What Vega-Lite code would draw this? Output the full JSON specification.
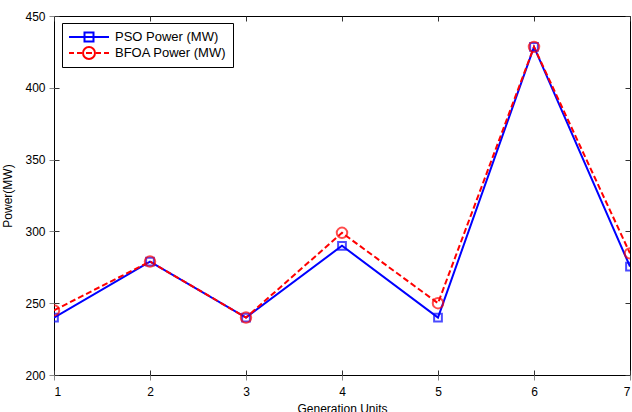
{
  "$schema": "https://vega.github.io/schema/vega-lite/v6.json",
  "width": 576,
  "height": 359,
  "autosize": {"type": "none"},
  "padding": {"left": 54, "top": 16, "right": 2, "bottom": 37},
  "background": "white",
  "config": {
    "font": "Liberation Sans",
    "view": {"stroke": "black", "strokeWidth": 1},
    "axis": {
      "domain": false,
      "labelFont": "Liberation Sans",
      "labelFontSize": 12,
      "labelColor": "black",
      "titleFont": "Liberation Sans",
      "titleFontSize": 12,
      "titleFontWeight": "normal",
      "titleColor": "black",
      "gridColor": "#333333",
      "gridOpacity": 1,
      "gridWidth": 1
    }
  },
  "data": {
    "values": [
      {"unit": 1, "power": 240, "series": "PSO Power (MW)"},
      {"unit": 2, "power": 279, "series": "PSO Power (MW)"},
      {"unit": 3, "power": 240, "series": "PSO Power (MW)"},
      {"unit": 4, "power": 290, "series": "PSO Power (MW)"},
      {"unit": 5, "power": 240, "series": "PSO Power (MW)"},
      {"unit": 6, "power": 428.5, "series": "PSO Power (MW)"},
      {"unit": 7, "power": 275.5, "series": "PSO Power (MW)"},
      {"unit": 1, "power": 245, "series": "BFOA Power (MW)"},
      {"unit": 2, "power": 279, "series": "BFOA Power (MW)"},
      {"unit": 3, "power": 240, "series": "BFOA Power (MW)"},
      {"unit": 4, "power": 299, "series": "BFOA Power (MW)"},
      {"unit": 5, "power": 250, "series": "BFOA Power (MW)"},
      {"unit": 6, "power": 428.5, "series": "BFOA Power (MW)"},
      {"unit": 7, "power": 284.7, "series": "BFOA Power (MW)"}
    ]
  },
  "layer": [
    {
      "transform": [{"filter": "datum.series === 'PSO Power (MW)'"}],
      "mark": {"type": "line", "strokeWidth": 2, "clip": true},
      "encoding": {
        "x": {"field": "unit", "type": "quantitative", "scale": {"domain": [1, 7], "nice": false, "zero": false},
              "axis": {"title": "Generation Units", "values": [1,2,3,4,5,6,7], "grid": true, "gridDash": [5, 349, 5, 100], "labelPadding": 6, "titlePadding": 6, "format": "d"}},
        "y": {"field": "power", "type": "quantitative", "scale": {"domain": [200, 450], "nice": false, "zero": false},
              "axis": {"title": "Power(MW)", "values": [200,250,300,350,400,450], "grid": true, "gridDash": [5, 566, 5, 100], "labelPadding": 4, "titlePadding": 10}},
        "color": {"field": "series", "type": "nominal", "scale": {"domain": ["PSO Power (MW)", "BFOA Power (MW)"], "range": ["#0000ff", "#ff0000"]},
                  "legend": {"title": null, "orient": "none", "legendX": 8, "legendY": 7, "strokeColor": "black", "fillColor": "white",
                             "padding": 6, "labelFontSize": 13, "labelFont": "Liberation Sans", "labelColor": "black", "rowPadding": 0,
                             "labelOffset": 5, "symbolStrokeWidth": 2, "symbolSize": 1600, "clipHeight": 16,
                             "symbolType": "M-1,0H1M-0.225,-0.225H0.225V0.225H-0.225Z",
                             "encode": {"symbols": {"update": {
                               "shape": {"signal": "datum.value === 'PSO Power (MW)' ? 'M-1,0H1M-0.225,-0.225H0.225V0.225H-0.225Z' : 'M-1,0H-0.75M-0.6,0H-0.35M-0.15,0H0.15M0.35,0H0.6M0.75,0H1M0.3,0A0.3,0.3 0 1,1 -0.3,0A0.3,0.3 0 1,1 0.3,0Z'"},
                               "fill": {"value": "transparent"},
                               "strokeWidth": {"value": 2}
                             }}}}}
      }
    },
    {
      "transform": [{"filter": "datum.series === 'BFOA Power (MW)'"}],
      "mark": {"type": "line", "strokeWidth": 2, "strokeDash": [6, 3], "clip": true},
      "encoding": {
        "x": {"field": "unit", "type": "quantitative"},
        "y": {"field": "power", "type": "quantitative"},
        "color": {"field": "series", "type": "nominal"}
      }
    },
    {
      "transform": [{"filter": "datum.series === 'PSO Power (MW)'"}],
      "mark": {"type": "point", "shape": "square", "filled": false, "strokeWidth": 2, "size": 60, "color": "#0000ff", "clip": true},
      "encoding": {
        "x": {"field": "unit", "type": "quantitative"},
        "y": {"field": "power", "type": "quantitative"}
      }
    },
    {
      "transform": [{"filter": "datum.series === 'BFOA Power (MW)'"}],
      "mark": {"type": "point", "shape": "circle", "filled": false, "strokeWidth": 2, "size": 110, "color": "#ff0000", "clip": true},
      "encoding": {
        "x": {"field": "unit", "type": "quantitative"},
        "y": {"field": "power", "type": "quantitative"}
      }
    }
  ]
}
